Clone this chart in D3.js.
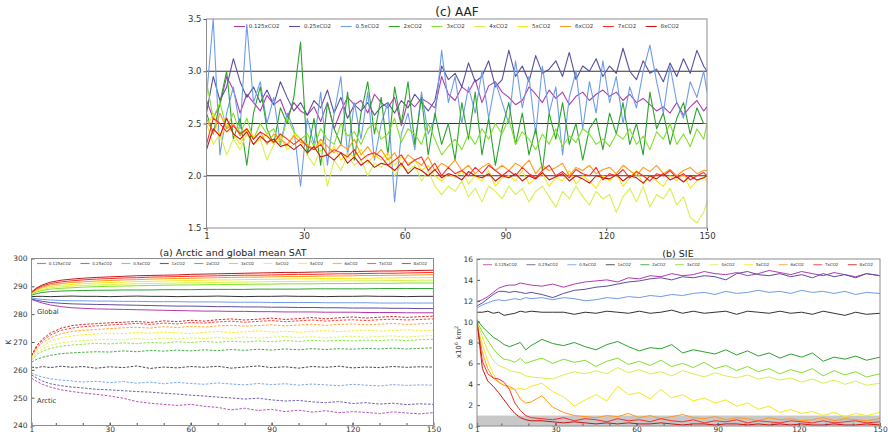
<!DOCTYPE html>
<html>
<head>
<meta charset="utf-8">
<script src="https://cdn.jsdelivr.net/npm/d3@7"></script>
<style>
body { margin: 0; background: #fff; }
svg { font-family: "DejaVu Sans", sans-serif; }
</style>
</head>
<body>
<script>
// ---------------- data ----------------
var runs = ['0.125xCO2', '0.25xCO2', '0.5xCO2', '1xCO2', '2xCO2', '3xCO2', '4xCO2', '5xCO2', '6xCO2', '7xCO2', '8xCO2'];
var runColors = ['#b03bb0', '#5c4e9e', '#6e9de6', '#333333', '#2ca32c', '#82e02e', '#d6f04c', '#f7e81a', '#ff9a1e', '#ff2b2b', '#c81616'];
var aafRuns = ['0.125xCO2', '0.25xCO2', '0.5xCO2', '2xCO2', '3xCO2', '4xCO2', '5xCO2', '6xCO2', '7xCO2', '8xCO2'];

var xTickLabels = [1, 30, 60, 90, 120, 150];
var aafTicks = [1.5, 2.0, 2.5, 3.0, 3.5];
var aafRefLines = [2.0, 2.5, 3.0];
var satTicks = [240, 250, 260, 270, 280, 290, 300];
var sieTicks = [0, 2, 4, 6, 8, 10, 12, 14, 16];
var sieThreshold = 1;

// (c) AAF, every second year
var aafYears = d3.range(1, 150, 2).concat([150]);
var aaf_0125 = [2.72,2.55,2.68,2.95,2.82,2.6,2.78,2.7,2.62,2.77,2.68,2.73,2.56,2.7,2.62,
  2.58,2.66,2.52,2.7,2.45,2.62,2.75,2.68,2.72,2.6,2.78,2.7,2.65,2.75,2.48,
  2.72,2.66,2.74,2.7,2.65,2.95,2.78,2.72,2.85,2.8,2.92,2.7,2.86,2.9,2.8,
  2.75,2.68,2.72,2.85,2.78,2.7,2.82,2.74,2.8,2.68,2.76,2.8,2.72,2.78,2.82,
  2.76,2.8,2.72,2.78,2.7,2.74,2.68,2.62,2.66,2.6,2.7,2.58,2.66,2.72,2.62, 2.66];
var aaf_025 = [2.6,2.95,2.72,2.85,3.12,2.9,2.75,2.85,2.7,2.82,2.68,2.9,2.75,2.62,2.7,
  2.58,2.72,2.65,2.82,2.6,2.75,2.55,2.68,2.62,2.7,2.58,2.66,2.7,2.6,2.72,
  2.65,2.78,2.7,2.62,2.72,3.05,2.92,2.98,2.85,3.08,2.9,2.95,3.1,2.85,2.92,
  3.2,2.95,3.05,2.9,3.15,2.98,3.02,3.1,2.95,3.18,2.92,3.05,3.0,3.12,2.95,
  3.05,2.98,3.22,3.0,2.92,3.1,2.98,3.02,2.9,3.08,2.95,3.12,2.98,3.2,3.05, 3.0];
var aaf_05 = [2.75,3.5,2.2,2.6,2.85,2.45,3.45,2.7,2.9,2.5,2.75,2.3,2.6,2.45,1.9,
  2.55,2.3,2.8,2.1,2.6,2.95,2.2,2.7,2.35,2.8,2.15,2.5,2.7,1.75,2.4,
  2.6,2.25,2.8,2.4,2.55,3.2,2.7,2.95,2.5,2.85,2.6,3.0,2.55,2.9,2.7,
  2.5,3.1,2.65,2.95,2.4,3.05,2.6,2.85,2.2,2.75,3.0,2.45,2.9,2.6,3.1,
  2.7,2.95,2.5,2.85,2.65,3.0,3.25,2.9,2.6,3.05,2.7,2.55,2.9,2.75,3.0, 2.8];
var aaf_2 = [2.6,2.4,2.7,3.0,2.35,2.55,2.1,2.6,2.85,2.45,2.3,2.65,2.5,2.75,3.28,
  2.2,2.55,2.1,2.7,2.45,2.3,2.8,2.15,2.6,2.9,2.4,2.75,2.2,2.85,2.5,
  2.9,2.3,2.75,2.2,2.6,2.3,2.5,2.15,2.7,2.35,2.8,2.2,2.55,2.1,2.45,
  2.7,2.3,2.6,2.2,2.45,2.05,2.6,2.35,2.7,2.3,2.5,2.15,2.45,2.55,2.25,
  2.6,2.4,2.7,2.3,2.5,2.2,2.8,2.45,2.6,2.3,2.55,2.7,2.4,2.65,2.5, 2.5];
var aaf_3 = [2.9,2.55,2.7,2.45,2.6,2.4,2.55,2.35,2.5,2.4,2.45,2.3,2.55,2.42,2.35,
  2.4,2.28,2.45,2.35,2.3,2.5,2.38,2.42,2.3,2.45,2.5,2.35,2.4,2.55,2.32,
  2.45,2.4,2.3,2.5,2.35,2.2,2.28,2.35,2.25,2.4,2.3,2.45,2.35,2.5,2.4,
  2.55,2.3,2.42,2.35,2.25,2.4,2.3,2.45,2.28,2.38,2.32,2.45,2.4,2.3,2.35,
  2.28,2.4,2.35,2.45,2.3,2.38,2.25,2.42,2.35,2.5,2.3,2.4,2.28,2.45,2.35, 2.5];
var aaf_4 = [2.5,2.3,2.4,2.2,2.35,2.25,2.4,2.3,2.35,2.15,2.3,2.38,2.25,2.3,2.35,
  2.2,2.1,2.25,1.9,2.15,2.05,2.2,2.1,2.15,2.0,2.12,2.08,2.18,2.0,2.1,
  2.05,2.1,1.95,2.05,1.9,1.82,1.9,1.85,1.95,1.8,1.88,1.75,1.9,1.85,1.78,
  1.9,1.82,1.88,1.75,1.85,1.9,1.8,1.7,1.85,1.78,1.9,1.8,1.72,1.85,1.78,
  1.82,1.65,1.8,1.88,1.75,1.9,1.7,1.82,1.78,1.88,1.72,1.8,1.6,1.55,1.65, 1.75];
var aaf_5 = [2.45,2.6,2.35,2.5,2.4,2.3,2.45,2.38,2.35,2.4,2.3,2.35,2.28,2.4,2.35,
  2.3,2.25,2.32,2.2,2.28,2.15,2.22,2.18,2.25,2.12,2.2,2.15,2.22,2.1,2.18,
  2.12,2.15,2.05,2.1,2.0,1.95,2.02,1.98,2.05,1.92,2.0,1.95,2.05,1.9,1.98,
  2.0,1.95,2.05,1.92,1.98,2.02,1.9,1.98,1.95,2.05,1.92,2.0,1.95,1.88,2.0,
  1.95,2.02,1.9,1.98,2.05,1.92,2.0,1.95,1.9,2.0,1.95,2.02,1.88,1.95,1.98, 1.95];
var aaf_6 = [2.55,2.4,2.6,2.45,2.5,2.38,2.45,2.35,2.42,2.3,2.4,2.35,2.3,2.38,2.32,
  2.3,2.25,2.35,2.28,2.22,2.3,2.25,2.35,2.2,2.28,2.18,2.25,2.15,2.22,2.1,
  2.2,2.15,2.1,2.18,2.05,2.12,2.08,2.15,2.05,2.1,2.02,2.08,2.12,2.05,2.1,
  2.05,2.12,2.08,2.15,2.02,2.1,2.05,2.08,2.12,2.0,2.08,2.05,2.1,2.02,2.06,
  2.08,2.02,2.1,2.05,2.0,2.08,2.04,2.1,2.02,2.06,2.0,2.05,2.08,2.02,2.05, 2.05];
var aaf_7 = [2.3,2.55,2.5,2.42,2.48,2.4,2.45,2.35,2.42,2.38,2.32,2.4,2.35,2.3,2.35,
  2.28,2.25,2.3,2.2,2.25,2.22,2.18,2.25,2.15,2.2,2.22,2.18,2.1,2.15,2.2,
  2.1,2.15,2.18,2.05,2.12,2.0,2.08,2.02,2.05,2.0,2.08,2.02,2.1,2.05,2.0,
  2.05,2.0,2.08,2.02,1.98,2.05,2.1,2.0,2.04,1.98,2.06,2.02,2.0,2.08,1.96,
  2.02,2.0,2.06,1.98,2.04,2.0,1.95,2.02,2.0,2.05,1.98,2.02,1.96,2.0,2.03, 2.0];
var aaf_8 = [2.25,2.45,2.38,2.55,2.4,2.35,2.42,2.3,2.38,2.32,2.35,2.28,2.3,2.25,2.3,
  2.22,2.28,2.18,2.2,2.15,2.22,2.12,2.18,2.1,2.15,2.08,2.12,2.1,2.05,2.12,
  2.02,2.08,2.05,2.0,2.06,1.98,2.02,2.0,1.96,2.04,2.0,1.98,2.02,1.95,2.0,
  1.98,2.02,1.95,2.0,1.97,2.03,1.96,1.99,2.02,1.95,2.0,1.97,1.93,2.0,1.98,
  1.97,2.01,1.95,2.0,1.98,1.93,2.0,1.97,2.02,1.96,1.99,1.94,2.0,1.96,1.98, 2.0];
var aafSeries = [aaf_0125, aaf_025, aaf_05, aaf_2, aaf_3, aaf_4, aaf_5, aaf_6, aaf_7, aaf_8];

// (a) SAT, K
var satYears = [1,3,5,8,12,16,20,25,30,35,40,45,50,55,60,65,70,75,80,85,90,95,100,105,110,115,120,125,130,135,140,145,150];
var glob_0125 = [285.3,284.6,284.0,283.3,282.7,282.3,282.1,281.9,281.8,281.7,281.6,281.5,281.4,281.3,281.2,281.1,281.1,281.0,281.0,280.9,280.9,280.8,280.8,280.8,280.7,280.7,280.7,280.6,280.6,280.6,280.5,280.5,280.5];
var glob_025 = [285.4,285.0,284.6,284.2,283.9,283.7,283.6,283.5,283.4,283.3,283.2,283.1,283.0,282.9,282.9,282.8,282.7,282.7,282.6,282.6,282.5,282.5,282.4,282.4,282.3,282.3,282.2,282.2,282.2,282.1,282.1,282.0,282.0];
var glob_05 = [285.8,285.5,285.3,285.1,284.9,284.8,284.8,284.7,284.7,284.6,284.6,284.5,284.5,284.5,284.4,284.4,284.4,284.3,284.3,284.3,284.2,284.2,284.2,284.2,284.1,284.1,284.1,284.1,284.0,284.0,284.0,284.0,284.0];
var glob_1 = [286.3,286.4,286.4,286.3,286.4,286.5,286.4,286.4,286.3,286.4,286.5,286.4,286.4,286.3,286.4,286.4,286.5,286.4,286.3,286.4,286.4,286.5,286.4,286.4,286.3,286.4,286.4,286.5,286.4,286.4,286.3,286.4,286.4];
var glob_2 = [286.8,287.4,287.8,288.1,288.3,288.4,288.5,288.6,288.6,288.7,288.7,288.7,288.8,288.8,288.8,288.9,288.9,288.9,288.9,289.0,289.0,289.0,289.0,289.1,289.1,289.1,289.1,289.1,289.2,289.2,289.2,289.2,289.2];
var glob_3 = [287.1,288.0,288.5,289.0,289.3,289.5,289.7,289.9,290.0,290.1,290.2,290.3,290.4,290.5,290.5,290.6,290.6,290.7,290.7,290.8,290.8,290.9,290.9,290.9,291.0,291.0,291.0,291.1,291.1,291.1,291.2,291.2,291.2];
var glob_4 = [287.3,288.3,288.9,289.5,289.8,290.1,290.3,290.5,290.6,290.8,290.9,291.0,291.1,291.2,291.3,291.3,291.4,291.5,291.5,291.6,291.7,291.7,291.8,291.8,291.9,291.9,292.0,292.0,292.0,292.1,292.1,292.2,292.2];
var glob_5 = [287.4,288.6,289.3,290.0,290.4,290.7,290.9,291.2,291.4,291.5,291.7,291.8,291.9,292.0,292.1,292.2,292.3,292.3,292.4,292.5,292.5,292.6,292.7,292.7,292.8,292.8,292.9,292.9,293.0,293.0,293.1,293.1,293.2];
var glob_6 = [287.6,288.9,289.7,290.5,291.0,291.4,291.6,291.9,292.1,292.3,292.4,292.6,292.7,292.8,292.9,293.0,293.1,293.2,293.3,293.3,293.4,293.5,293.5,293.6,293.7,293.7,293.8,293.9,293.9,294.0,294.0,294.1,294.2];
var glob_7 = [287.8,289.2,290.1,291.0,291.6,292.0,292.3,292.6,292.8,293.0,293.1,293.3,293.4,293.5,293.6,293.7,293.8,293.9,294.0,294.0,294.1,294.2,294.3,294.3,294.4,294.5,294.5,294.6,294.7,294.7,294.8,294.9,295.0];
var glob_8 = [288.0,289.5,290.5,291.5,292.2,292.6,292.9,293.2,293.4,293.6,293.8,293.9,294.0,294.1,294.3,294.4,294.5,294.6,294.7,294.8,294.9,295.0,295.0,295.1,295.2,295.3,295.3,295.4,295.5,295.5,295.6,295.7,295.8];
var globSeries = [glob_0125, glob_025, glob_05, glob_1, glob_2, glob_3, glob_4, glob_5, glob_6, glob_7, glob_8];

var arc_0125 = [257.0,255.8,254.8,253.8,252.8,252.2,251.7,251.2,250.6,249.8,248.6,248.0,247.6,247.2,247.6,246.9,246.5,245.6,246.2,245.4,245.8,245.0,245.5,244.8,245.3,244.6,245.0,244.7,244.3,244.9,244.5,244.2,244.6];
var arc_025 = [258.2,257.0,256.0,255.0,254.3,253.8,253.5,253.0,252.8,252.5,252.2,252.0,251.6,251.3,250.9,250.6,250.2,249.9,249.5,249.8,249.2,248.8,249.0,248.5,248.2,248.6,247.9,248.2,247.7,248.0,247.5,247.8,247.6];
var arc_05 = [258.8,258.0,257.4,256.8,256.3,256.0,255.6,255.9,255.4,255.8,255.2,255.6,255.0,255.5,255.1,254.8,255.3,254.9,254.6,255.1,254.7,255.0,254.5,254.9,254.6,254.3,254.8,254.5,254.2,254.7,254.4,254.6,254.5];
var arc_1 = [261.0,260.7,261.2,260.8,261.3,260.9,261.2,260.6,261.1,260.8,261.4,260.5,261.0,260.7,261.2,260.9,261.3,260.6,261.0,261.4,260.8,261.1,260.6,261.2,260.9,261.3,260.7,261.0,260.8,261.2,260.9,261.1,261.0];
var arc_2 = [262.8,263.8,264.5,265.2,265.8,266.1,266.3,266.5,266.4,266.8,266.5,267.0,266.7,267.1,266.8,267.2,266.9,267.3,267.0,267.4,267.1,267.5,267.2,267.6,267.3,267.6,267.4,267.7,267.5,267.8,267.5,267.7,267.9];
var arc_3 = [263.5,265.5,266.6,267.7,268.5,268.9,269.2,269.5,269.3,269.7,269.4,269.9,269.6,270.1,269.8,270.2,269.9,270.3,270.0,270.4,270.1,270.5,270.2,270.6,270.3,270.6,270.4,270.7,270.5,270.8,270.5,270.8,271.0];
var arc_4 = [264.0,266.2,267.5,268.8,269.7,270.2,270.5,270.8,271.0,270.7,271.2,270.9,271.4,271.0,271.5,271.2,271.6,271.3,271.8,271.4,271.7,272.0,271.6,271.9,271.5,271.8,272.1,271.7,272.0,272.2,271.8,272.1,272.3];
var arc_5 = [264.5,267.0,268.5,270.2,271.5,272.2,272.6,272.9,273.2,273.0,273.4,273.1,273.6,273.3,273.0,273.5,273.8,273.4,273.7,274.0,273.6,273.9,273.5,273.8,274.1,273.7,274.0,274.3,273.9,274.1,274.4,274.0,274.3];
var arc_6 = [264.8,267.8,269.6,271.5,273.0,273.8,274.2,274.5,274.8,275.1,275.3,275.0,275.5,275.2,275.6,275.4,275.8,276.0,275.7,275.9,276.2,275.8,276.1,276.4,276.0,276.3,276.5,276.2,276.4,276.7,276.3,276.5,276.8];
var arc_7 = [265.0,268.3,270.4,272.5,274.2,275.0,275.5,275.8,276.1,276.4,276.7,276.3,276.8,276.5,277.0,276.8,277.2,277.5,277.1,277.4,277.7,277.3,277.6,277.9,277.5,277.8,278.0,277.7,278.0,278.2,277.9,278.1,278.3];
var arc_8 = [265.2,268.8,271.0,273.2,275.0,275.9,276.3,276.6,276.9,277.1,277.4,277.0,277.6,277.3,277.8,277.5,278.0,278.3,277.9,278.2,278.6,278.1,278.4,278.8,278.3,278.7,279.0,278.6,278.9,279.2,278.8,279.1,279.3];
var arcSeries = [arc_0125, arc_025, arc_05, arc_1, arc_2, arc_3, arc_4, arc_5, arc_6, arc_7, arc_8];

// (b) SIE, 10^6 km^2
var sieYears = [1,3,5,7,9,11,13,15,17,19,21,25,29,33,37,41,45,49,53,57,61,65,69,73,77,81,85,89,93,97,101,105,109,113,117,121,125,129,133,137,141,145,150];
var sie_0125 = [11.9,12.1,12.4,12.8,13.2,13.4,13.5,13.5,13.7,13.6,13.5,13.4,13.6,13.3,13.6,13.8,13.9,14.0,13.8,14.2,14.1,14.4,14.3,14.6,14.4,14.5,14.8,14.6,14.5,14.7,14.4,14.6,14.9,14.7,14.5,14.8,14.6,14.4,14.7,14.5,14.3,14.6,14.4];
var sie_025 = [11.5,11.8,12.2,12.6,12.9,12.9,12.8,12.9,12.8,12.7,12.8,12.6,12.3,12.7,13.0,13.1,13.3,13.4,13.6,13.8,13.9,14.1,14.2,14.0,14.3,14.2,14.4,14.3,14.0,14.6,14.8,14.5,14.4,14.6,14.3,14.5,14.2,14.6,14.3,14.5,14.2,14.6,14.4];
var sie_05 = [11.3,11.6,11.8,12.0,12.1,12.0,12.1,12.2,12.1,12.3,12.2,12.3,12.1,12.3,12.2,12.0,12.1,12.3,12.2,12.4,12.3,12.5,12.4,12.6,12.5,12.7,12.8,12.6,12.9,12.7,12.8,13.0,12.8,12.9,12.7,13.0,12.8,12.9,12.7,12.9,12.6,12.8,12.7];
var sie_1 = [10.9,10.9,11.0,10.8,10.9,10.6,10.7,10.8,11.0,10.9,11.0,10.9,10.9,10.9,10.7,10.9,10.8,11.0,10.9,10.8,11.0,10.8,10.9,11.1,10.8,11.0,10.8,10.9,11.0,10.7,11.0,10.9,10.8,11.0,10.8,10.9,10.7,11.0,10.8,10.6,10.9,10.7,10.8];
var sie_2 = [10.2,9.5,9.0,8.5,8.2,7.8,7.6,7.8,8.0,7.3,7.7,8.3,7.9,7.7,8.0,7.6,7.3,7.8,8.1,7.6,7.2,7.5,7.4,7.8,7.0,7.3,7.1,6.9,7.3,6.8,7.2,6.7,7.0,6.5,6.9,6.6,7.0,6.2,6.6,6.4,6.7,6.3,6.6];
var sie_3 = [10.0,9.0,8.2,7.4,6.8,6.4,6.3,6.1,6.5,6.0,6.2,6.5,6.0,6.4,6.1,6.3,5.7,6.2,6.5,5.9,6.2,5.8,6.3,5.7,6.0,5.6,6.1,5.5,5.8,5.3,5.7,5.2,5.5,5.0,5.4,5.1,5.5,4.8,5.3,4.9,5.2,4.7,5.0];
var sie_4 = [10.0,8.5,7.2,6.3,5.8,5.6,5.3,5.2,5.1,4.8,4.7,4.6,4.5,4.9,5.2,5.0,5.3,5.0,5.6,5.1,5.4,5.0,5.2,4.8,5.3,5.0,4.7,5.1,4.8,4.6,4.9,4.5,4.7,4.4,4.6,4.2,4.5,4.1,4.4,4.0,4.3,3.9,4.1];
var sie_5 = [9.6,7.8,6.2,5.0,4.2,3.9,3.6,3.5,3.6,3.5,3.8,4.1,3.3,2.8,1.9,2.5,3.0,2.4,3.8,3.0,3.2,2.6,3.5,2.7,3.0,2.4,2.7,2.2,2.5,1.9,2.2,1.6,1.9,1.3,1.6,1.2,1.4,1.0,1.3,0.9,1.2,1.0,1.3];
var sie_6 = [9.8,7.0,5.5,4.6,4.2,3.9,3.8,3.5,2.6,2.2,2.3,2.9,1.8,1.3,1.0,0.9,0.8,1.0,0.9,1.2,0.8,1.0,0.7,0.9,1.1,0.8,0.7,0.9,0.6,0.8,0.7,0.5,0.8,0.6,0.7,0.5,0.6,0.8,0.5,0.7,0.6,0.5,0.7];
var sie_7 = [10.0,6.2,5.0,4.6,4.5,4.2,3.5,2.2,1.5,1.0,0.8,0.7,0.6,0.8,0.5,0.7,0.6,0.4,0.7,0.5,0.6,0.4,0.7,0.5,0.4,0.6,0.3,0.5,0.4,0.6,0.3,0.5,0.4,0.3,0.5,0.4,0.3,0.5,0.3,0.4,0.5,0.3,0.4];
var sie_8 = [10.0,5.5,4.3,3.8,3.2,2.5,1.8,1.2,0.8,0.6,0.5,0.5,0.4,0.3,0.4,0.3,0.2,0.3,0.2,0.3,0.2,0.2,0.3,0.2,0.1,0.2,0.2,0.1,0.2,0.2,0.1,0.2,0.1,0.2,0.1,0.2,0.1,0.1,0.2,0.1,0.1,0.2,0.1];
var sieSeries = [sie_0125, sie_025, sie_05, sie_1, sie_2, sie_3, sie_4, sie_5, sie_6, sie_7, sie_8];

// ---------------- chart ----------------
var svg = d3.select('body').append('svg')
  .attr('width', 888)
  .attr('height', 436);

function colorOf(name) { return runColors[runs.indexOf(name)]; }

function makePanel(id, box, xDom, yDom) {
  var x = d3.scaleLinear().domain(xDom).range([box.left, box.right]);
  var y = d3.scaleLinear().domain(yDom).range([box.bottom, box.top]);
  svg.append('clipPath').attr('id', id).append('rect')
    .attr('x', box.left).attr('y', box.top)
    .attr('width', box.right - box.left).attr('height', box.bottom - box.top);
  var g = svg.append('g');
  var plot = g.append('g').attr('clip-path', 'url(#' + id + ')');
  return { g: g, plot: plot, x: x, y: y, box: box };
}

function styleAxis(sel, fs) {
  sel.attr('font-size', fs).attr('font-family', null);
  sel.select('.domain').remove();
  sel.selectAll('.tick line').attr('stroke', '#555');
  sel.selectAll('.tick text').attr('fill', '#333');
}

function frame(p) {
  p.g.append('rect')
    .attr('x', p.box.left).attr('y', p.box.top)
    .attr('width', p.box.right - p.box.left).attr('height', p.box.bottom - p.box.top)
    .attr('fill', 'none').attr('stroke', '#8c8c8c').attr('stroke-width', 1);
}

function drawLine(p, xs, ys, color, width, dash) {
  var line = d3.line()
    .x(function (d) { return p.x(d[0]); })
    .y(function (d) { return p.y(d[1]); });
  p.plot.append('path')
    .datum(d3.zip(xs, ys))
    .attr('d', line)
    .attr('fill', 'none')
    .attr('stroke', color)
    .attr('stroke-width', width)
    .attr('stroke-dasharray', dash || null)
    .attr('stroke-linejoin', 'round');
}

function legend(g, labels, x0, x1, y, lineLen, fs, op) {
  var lg = g.append('g');
  var items = labels.map(function (l) {
    var t = lg.append('text').attr('font-size', fs).attr('fill', '#333').attr('y', y + fs * 0.35).text(l);
    return { label: l, t: t, w: t.node().getComputedTextLength() };
  });
  var pad = fs * 0.7;
  var total = d3.sum(items, function (d) { return d.w + lineLen + pad; });
  var gap = (x1 - x0 - total) / (items.length - 1);
  var cx = x0;
  items.forEach(function (d) {
    lg.append('line')
      .attr('x1', cx).attr('x2', cx + lineLen).attr('y1', y).attr('y2', y)
      .attr('stroke', colorOf(d.label)).attr('stroke-width', 1.1).attr('opacity', op);
    d.t.attr('x', cx + lineLen + pad);
    cx += lineLen + pad + d.w + gap;
  });
}

// ---- (c) AAF ----
var pc = makePanel('clipc', { left: 206.5, right: 707, top: 19, bottom: 228 }, [1, 150], [1.5, 3.5]);

aafRefLines.forEach(function (v) {
  pc.plot.append('line')
    .attr('x1', pc.box.left).attr('x2', pc.box.right)
    .attr('y1', pc.y(v)).attr('y2', pc.y(v))
    .attr('stroke', '#333').attr('stroke-width', 1.2);
});
aafRuns.forEach(function (r, i) {
  drawLine(pc, aafYears, aafSeries[i], colorOf(r), 1.1);
});

pc.g.append('g').attr('transform', 'translate(0,' + pc.box.bottom + ')')
  .call(d3.axisBottom(pc.x).tickValues(xTickLabels).tickSize(3).tickPadding(2))
  .call(styleAxis, 8.5);
pc.g.append('g').attr('transform', 'translate(' + pc.box.left + ',0)')
  .call(d3.axisLeft(pc.y).tickValues(aafTicks).tickFormat(d3.format('.1f')).tickSize(3).tickPadding(2))
  .call(styleAxis, 8.5);
frame(pc);
legend(pc.g, aafRuns, 234, 679, 26.5, 11, 5.5, 1);
pc.g.append('text').attr('x', 457).attr('y', 15.5).attr('text-anchor', 'middle')
  .attr('font-size', 12).attr('fill', '#222').text('(c) AAF');

// ---- (a) SAT ----
var pa = makePanel('clipa', { left: 31.5, right: 433.5, top: 258.5, bottom: 425.5 }, [1, 150], [240, 300]);
runs.forEach(function (r, i) {
  drawLine(pa, satYears, globSeries[i], colorOf(r), 1);
});
runs.forEach(function (r, i) {
  drawLine(pa, satYears, arcSeries[i], colorOf(r), 0.9, '2.5,1.5');
});

pa.g.append('g').attr('transform', 'translate(0,' + pa.box.bottom + ')')
  .call(d3.axisBottom(pa.x).tickValues(d3.range(10, 150, 10)).tickSize(-2.5).tickFormat(''))
  .call(styleAxis, 7.5);
pa.g.append('g').attr('transform', 'translate(0,' + pa.box.bottom + ')')
  .call(d3.axisBottom(pa.x).tickValues(xTickLabels).tickSize(-3).tickPadding(1.5))
  .call(styleAxis, 7.5);
pa.g.append('g').attr('transform', 'translate(' + pa.box.left + ',0)')
  .call(d3.axisLeft(pa.y).tickValues(satTicks).tickSize(-3).tickPadding(4))
  .call(styleAxis, 7.5);
frame(pa);
legend(pa.g, runs, 37, 427, 263.5, 9, 4, 0.75);
pa.g.append('text').attr('x', 233).attr('y', 256).attr('text-anchor', 'middle')
  .attr('font-size', 9.5).attr('fill', '#222').text('(a) Arctic and global mean SAT');
pa.g.append('text').attr('x', 37).attr('y', 314).attr('font-size', 6.8).attr('fill', '#333').text('Global');
pa.g.append('text').attr('x', 37).attr('y', 403).attr('font-size', 6.8).attr('fill', '#333').text('Arctic');
pa.g.append('text').attr('transform', 'translate(10.5,342) rotate(-90)').attr('text-anchor', 'middle')
  .attr('font-size', 7.5).attr('fill', '#333').text('K');

// ---- (b) SIE ----
var pb = makePanel('clipb', { left: 477, right: 880, top: 259, bottom: 426 }, [1, 150], [0, 16]);
pb.plot.append('rect')
  .attr('x', pb.box.left).attr('y', pb.y(sieThreshold))
  .attr('width', pb.box.right - pb.box.left).attr('height', pb.y(0) - pb.y(sieThreshold))
  .attr('fill', '#c8c8c8');
runs.forEach(function (r, i) {
  drawLine(pb, sieYears, sieSeries[i], colorOf(r), 1);
});

pb.g.append('g').attr('transform', 'translate(0,' + pb.box.bottom + ')')
  .call(d3.axisBottom(pb.x).tickValues(d3.range(10, 150, 10)).tickSize(-2.5).tickFormat(''))
  .call(styleAxis, 7.5);
pb.g.append('g').attr('transform', 'translate(0,' + pb.box.bottom + ')')
  .call(d3.axisBottom(pb.x).tickValues(xTickLabels).tickSize(-3).tickPadding(1))
  .call(styleAxis, 7.5);
pb.g.append('g').attr('transform', 'translate(' + pb.box.left + ',0)')
  .call(d3.axisLeft(pb.y).tickValues(sieTicks).tickSize(-3).tickPadding(4))
  .call(styleAxis, 7.5);
frame(pb);
legend(pb.g, runs, 483, 873, 264.7, 9, 4, 0.75);
pb.g.append('text').attr('x', 678).attr('y', 256.5).attr('text-anchor', 'middle')
  .attr('font-size', 9.5).attr('fill', '#222').text('(b) SIE');

var ylab = pb.g.append('text').attr('transform', 'translate(461,342) rotate(-90)')
  .attr('text-anchor', 'middle').attr('font-size', 7).attr('fill', '#333');
ylab.append('tspan').text('x10');
ylab.append('tspan').attr('font-size', 5).attr('dy', -3).text('6');
ylab.append('tspan').attr('dy', 3).text(' km');
ylab.append('tspan').attr('font-size', 5).attr('dy', -3).text('2');
</script>
</body>
</html>
